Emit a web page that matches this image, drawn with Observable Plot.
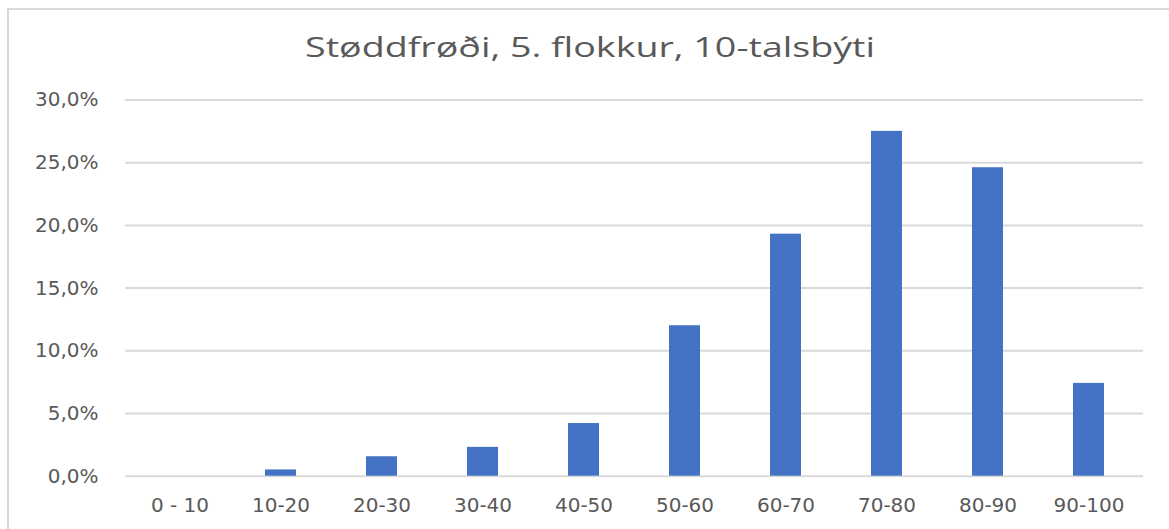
<!DOCTYPE html>
<html>
<head>
<meta charset="utf-8">
<script src="https://cdn.jsdelivr.net/npm/d3@7"></script>
<script src="https://cdn.jsdelivr.net/npm/@observablehq/plot@0.6"></script>
<style>
  html, body { margin: 0; padding: 0; background: #fff; }
  #wrap { position: relative; width: 1169px; height: 529px; overflow: hidden; background: #fff; }
  #frame { position: absolute; left: 7px; top: 8px; width: 1180px; height: 560px;
           border-left: 2px solid #d9d9d9; border-top: 2px solid #d9d9d9; pointer-events: none; }
  #title { position: absolute; top: 27px; left: 0; width: 1169px; height: 40px; }
  #title span { position: absolute; top: 0; white-space: nowrap; font-family: "Open Sans", sans-serif;
                font-size: 27px; color: #595959; transform-origin: 0 0; line-height: 1; }
  #chart { position: absolute; left: 0; top: 70px; }
</style>
</head>
<body>
<div id="wrap">
  <div id="title"><span id="ttext">Støddfrøði, 5. flokkur, 10-talsbýti</span></div>
  <div id="chart"></div>
  <div id="frame"></div>
</div>
<script>
const categories = ["0 - 10", "10-20", "20-30", "30-40", "40-50", "50-60", "60-70", "70-80", "80-90", "90-100"];
const values = [0, 0.5, 1.55, 2.3, 4.2, 12.0, 19.3, 27.5, 24.6, 7.4];
const yTicks = [0, 5, 10, 15, 20, 25, 30];

const data = categories.map((c, i) => ({cat: c, value: values[i]}));
const fmt = d => d.toFixed(1).replace(".", ",") + "%";

const plot = Plot.plot({
  width: 1169,
  height: 459,
  marginTop: 29.5,
  marginBottom: 53.3,
  marginLeft: 125,
  marginRight: 26,
  style: {fontFamily: "DejaVu Sans, sans-serif", fontSize: "20px", color: "#595959", background: "transparent"},
  x: {domain: categories, paddingInner: 0.695, paddingOuter: 0.3475, label: null},
  y: {domain: [0, 30], label: null},
  marks: [
    Plot.ruleY(yTicks, {stroke: "#d9d9d9", strokeWidth: 2}),
    Plot.barY(data, {x: "cat", y: "value", fill: "#4472C4"}),
    Plot.axisY(yTicks, {tickSize: 0, tickPadding: 27, tickFormat: fmt, fill: "#595959", label: null}),
    Plot.axisX({tickSize: 0, tickPadding: 22, fill: "#595959", label: null})
  ]
});
document.getElementById("chart").appendChild(plot);

// scale the title horizontally to the reference width and centre it
const t = document.getElementById("ttext");
const w = t.getBoundingClientRect().width;
const targetW = 570, centerX = 590;
const s = targetW / w;
t.style.transform = `scaleX(${s})`;
t.style.left = (centerX - targetW / 2) + "px";
t.style.top = "6px";
</script>
</body>
</html>
